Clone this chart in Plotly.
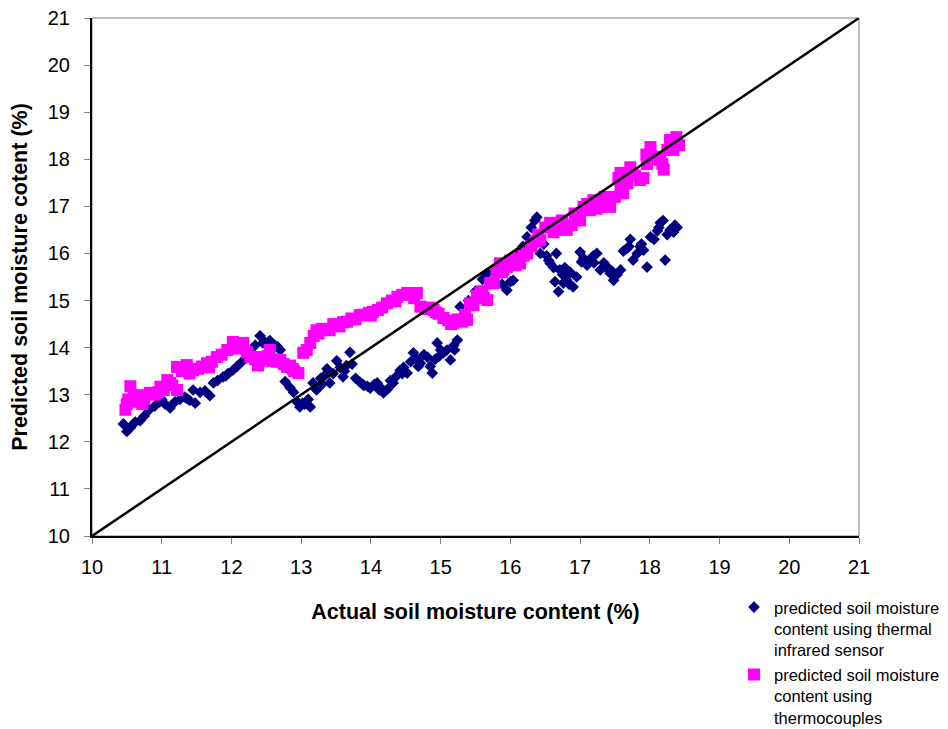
import plotly.graph_objects as go

# Predicted vs. actual soil moisture content (%)
ir_x = [10.45, 10.50, 10.55, 10.62, 10.69, 10.75, 10.82, 10.90, 10.97, 11.05, 11.12, 11.19, 11.26, 11.33,
        11.40, 11.45, 11.48, 11.55, 11.62, 11.69, 11.74, 11.80, 11.88, 11.95, 12.02, 12.08, 12.15, 12.22,
        12.28, 12.34, 12.41, 12.48, 12.55, 12.62, 12.70, 12.74, 12.77, 12.84, 12.89, 12.94, 12.98, 13.05,
        13.10, 13.13, 13.17, 13.22, 13.28, 13.33, 13.37, 13.41, 13.46, 13.51, 13.56, 13.60, 13.65, 13.70,
        13.73, 13.78, 13.84, 13.90, 13.95, 13.99, 14.05, 14.09, 14.14, 14.18, 14.24, 14.28, 14.32, 14.37,
        14.42, 14.47, 14.52, 14.57, 14.61, 14.66, 14.71, 14.76, 14.81, 14.85, 14.88, 14.92, 14.95, 15.00,
        15.04, 15.09, 15.14, 15.19, 15.24, 15.28, 15.40, 15.50, 15.60, 15.67, 15.75, 15.82, 15.88, 15.95,
        16.00, 16.04, 16.08, 16.12, 16.18, 16.24, 16.30, 16.35, 16.38, 16.43, 16.48, 16.52, 16.57, 16.62,
        16.66, 16.69, 16.71, 16.75, 16.76, 16.81, 16.86, 16.90, 16.95, 17.00, 17.05, 17.10, 17.14, 17.19,
        17.24, 17.29, 17.34, 17.38, 17.39, 17.43, 17.48, 17.53, 17.58, 17.62, 17.67, 17.72, 17.76, 17.82,
        17.86, 17.91, 17.96, 18.01, 18.06, 18.11, 18.15, 18.19, 18.22, 18.25, 18.29, 18.34, 18.39,
        10.58, 11.00, 11.36, 11.92, 12.45, 12.66, 13.02, 13.30, 13.62, 13.88, 14.12, 14.45, 14.68, 14.98,
        15.20, 16.55, 16.64, 16.78, 16.84, 17.02, 17.20, 17.46, 17.70, 17.88, 18.13, 18.36]
ir_y = [12.38, 12.22, 12.30, 12.42, 12.45, 12.55, 12.68, 12.76, 12.85, 12.80, 12.72, 12.85, 12.90, 12.95,
        12.88, 13.10, 12.82, 13.05, 13.08, 12.98, 13.25, 13.30, 13.38, 13.45, 13.52, 13.60, 13.70, 13.78,
        13.88, 14.05, 14.25, 14.12, 14.15, 14.05, 13.95, 13.60, 13.28, 13.15, 13.05, 12.85, 12.74, 12.80,
        12.90, 12.74, 13.25, 13.10, 13.35, 13.40, 13.55, 13.25, 13.45, 13.72, 13.58, 13.38, 13.62, 13.90,
        13.65, 13.35, 13.27, 13.20, 13.18, 13.14, 13.22, 13.25, 13.15, 13.04, 13.12, 13.30, 13.25, 13.40,
        13.52, 13.58, 13.46, 13.70, 13.89, 13.75, 13.67, 13.85, 13.80, 13.60, 13.46, 13.75, 14.10, 13.95,
        13.89, 13.95, 13.74, 14.05, 14.16, 14.87, 15.00, 15.20, 15.45, 15.58, 15.60, 15.70, 15.35, 15.22,
        15.40, 15.43, 15.80, 16.00, 16.15, 16.35, 16.55, 16.70, 16.77, 16.00, 16.20, 15.95, 15.79, 15.70,
        16.00, 15.19, 15.65, 15.55, 15.37, 15.43, 15.60, 15.29, 15.50, 16.03, 15.90, 15.75, 15.86, 15.95,
        16.00, 15.65, 15.80, 15.70, 15.71, 15.58, 15.43, 15.55, 15.65, 16.05, 16.10, 16.30, 15.86, 16.00,
        16.15, 16.07, 15.71, 16.35, 16.30, 16.48, 16.65, 16.70, 15.86, 16.40, 16.50, 16.45, 16.55,
        12.36, 12.90, 12.92, 13.40, 14.10, 14.02, 12.82, 13.22, 13.50, 13.22, 13.10, 13.45, 13.60, 13.82,
        13.95, 15.85, 15.40, 15.70, 15.35, 15.82, 15.80, 15.62, 16.15, 16.20, 16.55, 16.60]

tc_x = [10.48, 10.50, 10.55, 10.60, 10.65, 10.69, 10.75, 10.83, 10.90, 10.98, 11.03, 11.08, 11.15, 11.22,
        11.22, 11.29, 11.36, 11.45, 11.52, 11.58, 11.65, 11.72, 11.79, 11.86, 11.94, 12.02, 12.10, 12.17,
        12.22, 12.27, 12.34, 12.41, 12.48, 12.55, 12.60, 12.65, 12.70, 12.75, 12.80, 12.84, 12.90, 12.96,
        13.03, 13.08, 13.13, 13.18, 13.22, 13.30, 13.36, 13.41, 13.46, 13.52, 13.60, 13.66, 13.72, 13.78,
        13.84, 13.90, 13.97, 14.03, 14.10, 14.16, 14.23, 14.30, 14.38, 14.45, 14.52, 14.59, 14.66, 14.71,
        14.78, 14.84, 14.90, 14.97, 15.04, 15.11, 15.18, 15.25, 15.31, 15.38, 15.42, 15.47, 15.52, 15.57,
        15.62, 15.67, 15.71, 15.76, 15.80, 15.85, 15.90, 15.95, 16.00, 16.07, 16.14, 16.19, 16.24, 16.30,
        16.36, 16.43, 16.50, 16.57, 16.62, 16.68, 16.74, 16.81, 16.88, 16.96, 17.00, 17.05, 17.14, 17.19,
        17.24, 17.29, 17.34, 17.39, 17.43, 17.50, 17.58, 17.62, 17.58, 17.68, 17.72, 17.79, 17.86, 17.91,
        17.96, 18.01, 18.06, 18.11, 18.15, 18.20, 18.25, 18.29, 18.34, 18.38, 18.42,
        10.52, 10.72, 10.95, 11.12, 11.40, 11.68, 12.06, 12.38, 12.52, 12.88, 13.25, 13.55, 14.00, 14.35,
        14.62, 14.93, 15.15, 15.35, 15.60, 15.88, 16.10, 16.40, 16.70, 16.92, 17.10, 17.35, 17.55, 17.75,
        17.95, 18.18]
tc_y = [12.68, 12.80, 13.18, 12.95, 12.85, 12.99, 12.90, 13.04, 13.00, 13.17, 13.10, 13.31, 13.20, 13.10,
        13.59, 13.50, 13.63, 13.52, 13.55, 13.60, 13.67, 13.70, 13.80, 13.85, 13.95, 14.12, 14.08, 14.10,
        13.90, 13.80, 13.75, 13.80, 13.72, 13.95, 13.75, 13.70, 13.74, 13.65, 13.59, 13.62, 13.50, 13.46,
        13.89, 13.95, 14.10, 14.25, 14.37, 14.40, 14.38, 14.37, 14.50, 14.48, 14.54, 14.55, 14.62, 14.60,
        14.69, 14.70, 14.74, 14.76, 14.80, 14.85, 14.94, 15.00, 15.08, 15.12, 15.16, 15.15, 15.16, 14.87,
        14.82, 14.85, 14.80, 14.72, 14.63, 14.58, 14.52, 14.60, 14.55, 14.59, 14.94, 14.90, 15.10, 15.16,
        15.05, 15.01, 15.37, 15.37, 15.60, 15.79, 15.65, 15.71, 15.85, 15.75, 15.79, 15.95, 16.00, 16.15,
        16.25, 16.28, 16.55, 16.65, 16.45, 16.50, 16.70, 16.50, 16.60, 16.77, 16.70, 16.99, 16.92, 17.13,
        16.95, 16.99, 17.10, 17.07, 16.99, 17.20, 17.41, 17.28, 17.71, 17.49, 17.83, 17.65, 17.56, 17.60,
        17.90, 18.26, 18.00, 18.05, 17.98, 17.78, 18.20, 18.41, 18.20, 18.47, 18.30,
        12.90, 12.80, 13.05, 13.25, 13.45, 13.58, 13.98, 13.62, 13.82, 13.55, 14.30, 14.45, 14.68, 14.98,
        15.05, 14.75, 14.50, 14.70, 15.20, 15.60, 15.90, 16.40, 16.60, 16.85, 17.05, 17.20, 17.60, 17.70,
        18.10, 17.90]

# 1:1 reference line
diag_x = [10, 21]
diag_y = [10, 21]

ticks = list(range(10, 22))
tick_text = [str(t) for t in ticks]

FONT = "Liberation Sans, Arial, sans-serif"

fig = go.Figure()
fig.add_trace(go.Scatter(
    x=ir_x, y=ir_y, mode="markers",
    name="predicted soil moisture<br>content using thermal<br>infrared sensor",
    marker=dict(symbol="diamond", size=9, color="#000080", line=dict(width=0)),
))
fig.add_trace(go.Scatter(
    x=tc_x, y=tc_y, mode="markers",
    name="predicted soil moisture<br>content using<br>thermocouples",
    marker=dict(symbol="square", size=12, color="#FF00FF", line=dict(width=0)),
))
fig.add_trace(go.Scatter(
    x=diag_x, y=diag_y, mode="lines", showlegend=False, hoverinfo="skip",
    line=dict(color="black", width=2.5),
))

axis_common = dict(
    range=[10, 21], tickvals=ticks, ticktext=tick_text,
    showgrid=False, zeroline=False,
    showline=True, linecolor="black", linewidth=2,
    ticks="outside", ticklen=6, tickwidth=1, tickcolor="#808080",
    tickfont=dict(family=FONT, size=20, color="black"),
)

fig.update_layout(
    width=948, height=729,
    margin=dict(l=92, r=89, t=18, b=193, autoexpand=False),
    paper_bgcolor="white", plot_bgcolor="white",
    font=dict(family=FONT, color="black"),
    xaxis=dict(
        **axis_common, ticklabelstandoff=6,
        title=dict(text="<b>Actual soil moisture content (%)</b>",
                   font=dict(family=FONT, size=21.5), standoff=27),
    ),
    yaxis=dict(
        **axis_common, ticklabelstandoff=10,
        title=dict(text="<b>Predicted soil moisture cotent (%)</b>",
                   font=dict(family=FONT, size=21.5), standoff=14),
    ),
    legend=dict(
        x=0.837, y=-0.104, xanchor="left", yanchor="top", valign="top",
        font=dict(family=FONT, size=16.5, color="black"),
        bgcolor="rgba(0,0,0,0)", itemsizing="trace",
        tracegroupgap=0,
    ),
    shapes=[dict(type="rect", xref="paper", yref="paper", x0=0, y0=0, x1=1, y1=1,
                 line=dict(color="#808080", width=1), layer="below")],
    showlegend=True,
)

fig.write_html("out.html")
